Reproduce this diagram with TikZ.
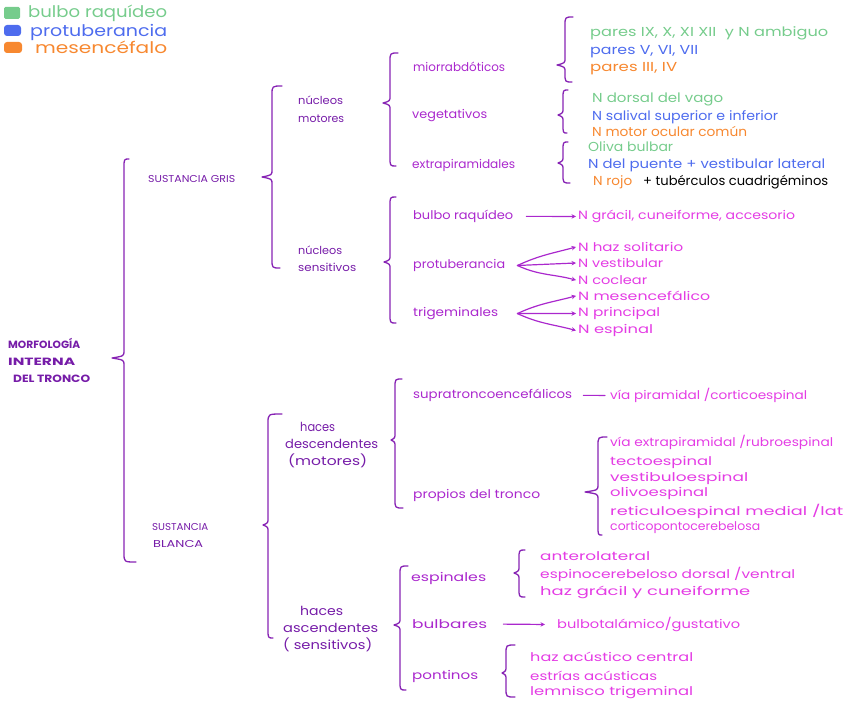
\documentclass[tikz,border=0pt]{standalone}
\usepackage{fontspec}
\setmainfont{Poppins}
\usepackage{graphicx}
\usetikzlibrary{arrows.meta}
\definecolor{brk}{RGB}{135,35,180}
\definecolor{dpur}{RGB}{118,28,168}
\definecolor{vio}{RGB}{170,40,205}
\definecolor{mag}{RGB}{228,60,228}
\definecolor{grn}{RGB}{118,204,140}
\definecolor{blu}{RGB}{78,108,238}
\definecolor{org}{RGB}{247,136,48}
\newcommand\tw[2]{\resizebox{#1pt}{\height}{#2}}
% brace: #1 xline #2 xtip #3 ytop #4 ytip #5 ybot #6 xhook top #7 xhook bottom
\newcommand\cbr[7]{\draw[brc] (#6,#3) .. controls (#1,#3) .. (#1,#3+9) -- (#1,#4-7) .. controls (#1,#4-2) .. (#2,#4) .. controls (#1,#4+2) .. (#1,#4+7) -- (#1,#5-9) .. controls (#1,#5) .. (#7,#5);}
\tikzset{
  txt/.style={anchor=base west,inner sep=0pt,yshift=-3.5pt,font=\fontsize{12}{14}\selectfont},
  lv3/.style={txt,text=vio},
  leaf/.style={txt,text=mag},
  grt/.style={txt,text=grn,font=\fontsize{13}{15}\selectfont},
  blt/.style={txt,text=blu,font=\fontsize{13}{15}\selectfont},
  ort/.style={txt,text=org,font=\fontsize{13}{15}\selectfont},
  bkt/.style={txt,text=black,font=\fontsize{13}{15}\selectfont},
  multi/.style={anchor=west,inner sep=0pt,align=left,text=dpur},
  legt/.style={anchor=base west,inner sep=0pt,yshift=-4.5pt,font=\fontsize{16}{18}\selectfont},
  brc/.style={draw=brk,line width=1.3pt,line cap=round,line join=round},
  arr/.style={draw=vio,line width=1.2pt,line cap=round,-{Stealth[length=4.5pt,width=4.5pt]}},
  plain/.style={draw=vio,line width=1.2pt,line cap=round}
}
\begin{document}
\begin{tikzpicture}[x=1pt,y=-1pt]
\useasboundingbox (0,0) rectangle (848,706);
% legend
\fill[grn,rounded corners=1.5pt] (4,7) rectangle (20,19);
\fill[blu,rounded corners=3pt] (4,25) rectangle (21,36);
\fill[org,rounded corners=3pt] (4,42) rectangle (22,53);
\node[legt,text=grn] (lg1) at (28,13) {\tw{139}{bulbo raquídeo}};
\node[legt,text=blu] (lg2) at (30,32) {\tw{137}{protuberancia}};
\node[legt,text=org] (lg3) at (35,49) {\tw{132}{mesencéfalo}};
% root
\node[multi,font=\fontsize{10.5}{17}\selectfont\bfseries] (root) at (8,360)
  {\tw{72}{MORFOLOGÍA}\\\tw{67}{INTERNA}\\\hspace*{5pt}\tw{77}{DEL TRONCO}};
\cbr{124}{112}{159}{358}{562}{129}{136}
% level 1
\node[txt,text=dpur,font=\fontsize{10}{12}\selectfont] (gris) at (148,179) {\tw{87}{SUSTANCIA GRIS}};
\node[multi,font=\fontsize{10}{17}\selectfont] (blanca) at (152,535)
  {\tw{56}{SUSTANCIA}\\\hspace*{1pt}\tw{50}{BLANCA}};
% gris brace
\cbr{272}{262}{86}{177}{268}{282}{280}
\node[multi,font=\fontsize{11}{18}\selectfont] (nmot) at (298,109) {\tw{45}{núcleos}\\\tw{46}{motores}};
\node[multi,font=\fontsize{11}{17}\selectfont] (nsen) at (298,259) {\tw{44}{núcleos}\\\tw{58}{sensitivos}};
% nucleos motores brace
\cbr{390}{383}{53}{103}{166}{398}{396}
\node[lv3] (mio) at (413,68) {\tw{92}{miorrabdóticos}};
\node[lv3] (veg) at (412,115) {\tw{75}{vegetativos}};
\node[lv3] (ext) at (412,165) {\tw{103}{extrapiramidales}};
% mio brace
\cbr{565}{557}{17}{65}{82}{573}{572}
\node[grt] (m1) at (590,33) {\tw{238}{pares IX, X, XI XII\ \ y N ambiguo}};
\node[blt] (m2) at (590,51) {\tw{108}{pares V, VI, VII}};
\node[ort] (m3) at (590,68) {\tw{87}{pares III, IV}};
% veg brace
\cbr{563}{558}{90}{115}{133}{568}{567}
\node[grt] (v1) at (592,99) {\tw{131}{N dorsal del vago}};
\node[blt] (v2) at (592,117) {\tw{186}{N salival superior e inferior}};
\node[ort] (v3) at (592,133) {\tw{155}{N motor ocular común}};
% ext brace
\cbr{563}{558}{142}{163}{183}{568}{570}
\node[grt] (e1) at (588,148) {\tw{85}{Oliva bulbar}};
\node[blt] (e2) at (588,165) {\tw{237}{N del puente + vestibular lateral}};
\node[ort] (e3) at (593,182) {\tw{39}{N rojo}};
\node[bkt] (e4) at (643,182) {\tw{185}{+ tubérculos cuadrigéminos}};
% nucleos sensitivos brace
\cbr{390}{384}{197}{262}{323}{396}{396}
\node[lv3] (sbr) at (413,216) {\tw{100}{bulbo raquídeo}};
\node[leaf] (sbrt) at (578,216) {\tw{217}{N grácil, cuneiforme, accesorio}};
\draw[arr] ([xshift=13pt]sbr.east) -- ([xshift=-2pt]sbrt.west);
\node[lv3] (prot) at (413,265) {\tw{92}{protuberancia}};
\node[leaf] (p1) at (578,248) {\tw{105}{N haz solitario}};
\node[leaf] (p2) at (578,264) {\tw{85}{N vestibular}};
\node[leaf] (p3) at (578,281) {\tw{69}{N coclear}};
\coordinate (pf) at ([xshift=12pt]prot.east);
\draw[arr] (pf) to[out=25,in=195] ([xshift=-2pt]p1.west);
\draw[arr] (pf) -- ([xshift=-2pt]p2.west);
\draw[arr] (pf) to[out=-25,in=165] ([xshift=-2pt]p3.west);
\node[lv3] (trig) at (413,313) {\tw{85}{trigeminales}};
\node[leaf] (t1) at (578,297) {\tw{132}{N mesencefálico}};
\node[leaf] (t2) at (578,313) {\tw{82}{N principal}};
\node[leaf] (t3) at (578,330) {\tw{75}{N espinal}};
\coordinate (tf) at ([xshift=19pt]trig.east);
\draw[arr] (tf) to[out=25,in=195] ([xshift=-2pt]t1.west);
\draw[arr] (tf) -- ([xshift=-2pt]t2.west);
\draw[arr] (tf) to[out=-25,in=165] ([xshift=-2pt]t3.west);
% blanca brace
\cbr{268}{263}{414}{525}{638}{282}{273}
\node[multi,font=\fontsize{12.5}{17}\selectfont] (hdes) at (285,445)
  {\hspace*{15pt}\tw{35}{haces}\\\tw{93}{descendentes}\\\hspace*{3pt}\tw{79}{(motores)}};
\node[multi,font=\fontsize{12.5}{17}\selectfont] (hasc) at (283,629)
  {\hspace*{17pt}\tw{43}{haces}\\\tw{95}{ascendentes}\\\tw{89}{( sensitivos)}};
% desc brace
\cbr{395}{391}{379}{440}{508}{402}{403}
\node[lv3] (supra) at (413,395) {\tw{159}{supratroncoencefálicos}};
\node[leaf] (viap) at (610,396) {\tw{197}{vía piramidal /corticoespinal}};
\draw[plain] ([xshift=11pt]supra.east) -- ([xshift=-5pt]viap.west);
\node[lv3] (prop) at (413,495) {\tw{127}{propios del tronco}};
\cbr{598}{585}{437}{492}{535}{607}{602}
\node[leaf] (d1) at (610,443) {\tw{223}{vía extrapiramidal /rubroespinal}};
\node[leaf] (d2) at (610,462) {\tw{102}{tectoespinal}};
\node[leaf] (d3) at (610,478) {\tw{138}{vestibuloespinal}};
\node[leaf] (d4) at (610,493) {\tw{98}{olivoespinal}};
\node[leaf] (d5) at (610,512) {\tw{233}{reticuloespinal medial /lat}};
\node[leaf] (d6) at (610,527) {\tw{150}{corticopontocerebelosa}};
% asc brace
\cbr{400}{394}{566}{625}{690}{408}{406}
\node[lv3] (esp) at (411,578) {\tw{75}{espinales}};
\node[lv3] (bul) at (412,625) {\tw{75}{bulbares}};
\node[lv3] (pon) at (412,676) {\tw{66}{pontinos}};
\cbr{519}{514}{550}{573}{597}{525}{525}
\node[leaf] (a1) at (540,557) {\tw{110}{anterolateral}};
\node[leaf] (a2) at (540,575) {\tw{255}{espinocerebeloso dorsal /ventral}};
\node[leaf] (a3) at (540,592) {\tw{210}{haz grácil y cuneiforme}};
\node[leaf] (bt) at (557,625) {\tw{183}{bulbotalámico/gustativo}};
\draw[arr] ([xshift=16pt]bul.east) -- ([xshift=-12pt]bt.west);
\cbr{506}{502}{645}{673}{697}{515}{515}
\node[leaf] (c1) at (530,658) {\tw{163}{haz acústico central}};
\node[leaf] (c2) at (530,677) {\tw{127}{estrías acústicas}};
\node[leaf] (c3) at (530,692) {\tw{163}{lemnisco trigeminal}};
\end{tikzpicture}
\end{document}
